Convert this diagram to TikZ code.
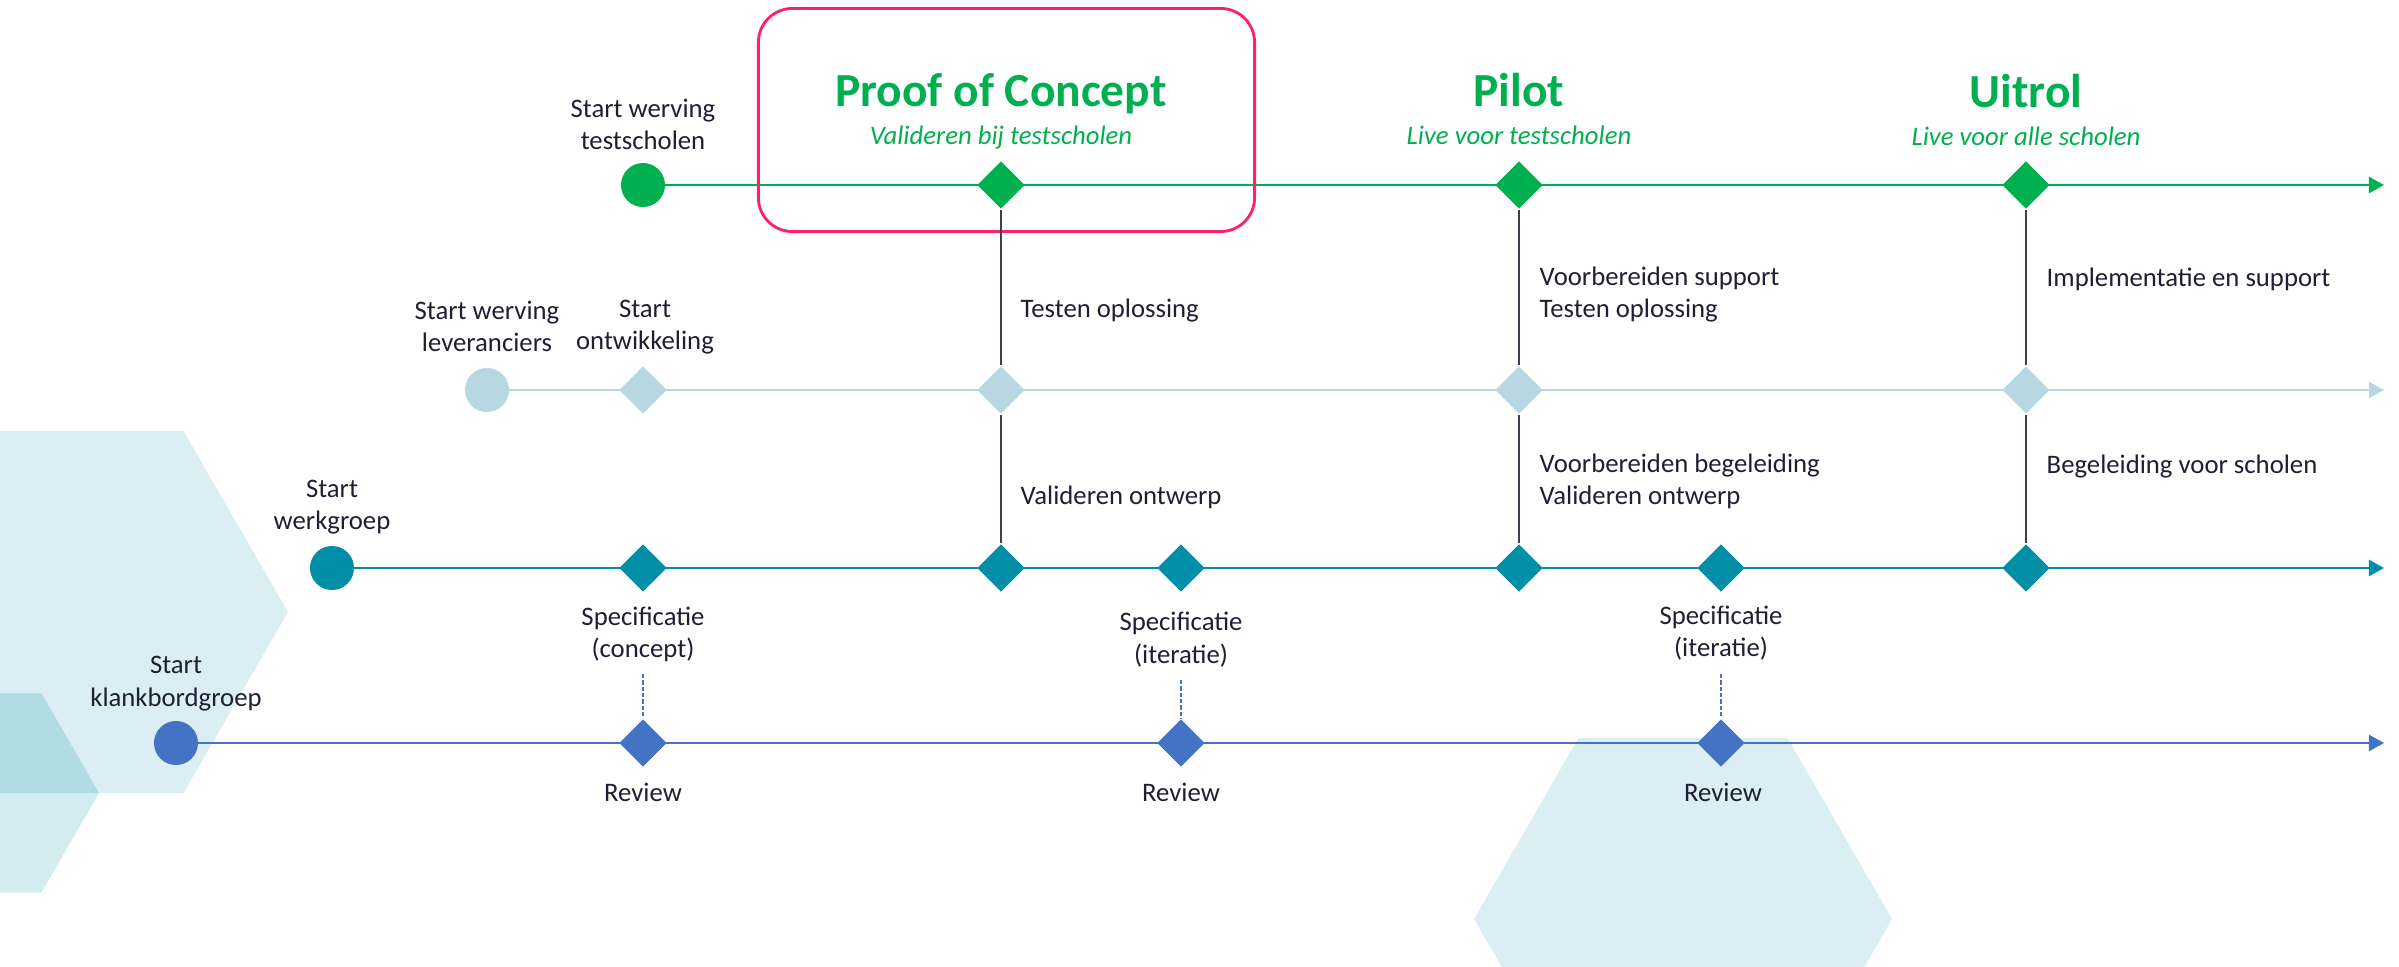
\documentclass[tikz,border=0pt]{standalone}
\usepackage{fontspec}
\setmainfont{Carlito}
\usetikzlibrary{shapes.geometric,arrows.meta}
\definecolor{cgreen}{HTML}{00B050}
\definecolor{clblue}{HTML}{B7D8E0}
\definecolor{cteal}{HTML}{008FA7}
\definecolor{cblue}{HTML}{4472C4}
\definecolor{cpink}{HTML}{FF1F6E}
\definecolor{ctext}{HTML}{1F1F33}
\definecolor{cconn}{HTML}{3F3F4F}
\definecolor{hexA}{HTML}{DBEEF3}
\definecolor{hexB}{HTML}{D3ECF0}
\definecolor{hexC}{HTML}{B1DCE3}
\pgfdeclarelayer{hexlayer}
\pgfdeclarelayer{linelayer}
\pgfsetlayers{hexlayer,linelayer,main}
\begin{document}
\begin{tikzpicture}[x=0.01cm,y=-0.01cm,
  lbl/.style={inner sep=0pt, text=ctext, font=\fontsize{7.6pt}{9.2pt}\selectfont, align=center, anchor=base},
  side/.style={lbl, align=left, anchor=base west},
  ttl/.style={inner sep=0pt, text=cgreen, font=\fontsize{13.5pt}{15pt}\selectfont\bfseries, anchor=base},
  sub/.style={inner sep=0pt, text=cgreen, font=\fontsize{7.6pt}{9.2pt}\selectfont\itshape, anchor=base},
  circ/.style={circle, inner sep=0pt, minimum size=0.44cm},
  dia/.style={diamond, inner sep=0pt, minimum width=0.48cm, minimum height=0.48cm},
  tline/.style={line width=0.6pt, -{Triangle[length=4.3pt,width=4.6pt]}},
  conn/.style={draw=cconn, line width=0.45pt},
  dashconn/.style={draw=cblue, line width=0.45pt, dash pattern=on 1.2pt off 0.6pt},
]
\useasboundingbox (0,0) rectangle (2399,967);

% background hexagons
\begin{pgfonlayer}{hexlayer}
\begin{scope}
\clip (0,0) rectangle (2399,967);
\fill[hexA] (288,612) -- (183.5,431) -- (-25.5,431) -- (-130,612) -- (-25.5,793) -- (183.5,793) -- cycle;
\fill[hexB] (99,793) -- (41.5,693.4) -- (-73.5,693.4) -- (-131,793) -- (-73.5,892.6) -- (41.5,892.6) -- cycle;
\begin{scope}
\clip (288,612) -- (183.5,431) -- (-25.5,431) -- (-130,612) -- (-25.5,793) -- (183.5,793) -- cycle;
\fill[hexC] (99,793) -- (41.5,693.4) -- (-73.5,693.4) -- (-131,793) -- (-73.5,892.6) -- (41.5,892.6) -- cycle;
\end{scope}
\fill[hexA] (1892,919) -- (1787.5,738) -- (1578.5,738) -- (1474,919) -- (1578.5,1100) -- (1787.5,1100) -- cycle;
\end{scope}
\end{pgfonlayer}

% highlight box
\node[draw=cpink, line width=0.8pt, rounded corners=0.34cm, minimum width=4.96cm, minimum height=2.23cm, inner sep=0pt] (pocbox) at (1006.5,120) {};

% row 1 (green)
\node[circ, fill=cgreen] (gC) at (643,185) {};
\node[dia, fill=cgreen] (g1) at (1001,185) {};
\node[dia, fill=cgreen] (g2) at (1519,185) {};
\node[dia, fill=cgreen] (g3) at (2026,185) {};
\coordinate (gE) at (2384,185);

% row 2 (light blue)
\node[circ, fill=clblue] (lC) at (487,390) {};
\node[dia, fill=clblue] (l0) at (643,390) {};
\node[dia, fill=clblue] (l1) at (1001,390) {};
\node[dia, fill=clblue] (l2) at (1519,390) {};
\node[dia, fill=clblue] (l3) at (2026,390) {};
\coordinate (lE) at (2384,390);

% row 3 (teal)
\node[circ, fill=cteal] (tC) at (332,568) {};
\node[dia, fill=cteal] (t0) at (643,568) {};
\node[dia, fill=cteal] (t1) at (1001,568) {};
\node[dia, fill=cteal] (tA) at (1181,568) {};
\node[dia, fill=cteal] (t2) at (1519,568) {};
\node[dia, fill=cteal] (tB) at (1721,568) {};
\node[dia, fill=cteal] (t3) at (2026,568) {};
\coordinate (tE) at (2384,568);

% row 4 (blue)
\node[circ, fill=cblue] (bC) at (176,743) {};
\node[dia, fill=cblue] (b0) at (643,743) {};
\node[dia, fill=cblue] (bA) at (1181,743) {};
\node[dia, fill=cblue] (bB) at (1721,743) {};
\coordinate (bE) at (2384,743);

\coordinate (d0) at (643,674);
\coordinate (dA) at (1181,680);
\coordinate (dB) at (1721,674);

\begin{pgfonlayer}{linelayer}
\draw[tline, draw=cgreen, fill=cgreen] (gC.center) -- (gE);
\draw[tline, draw=clblue, fill=clblue] (lC.center) -- (lE);
\draw[tline, draw=cteal, fill=cteal] (tC.center) -- (tE);
\draw[tline, draw=cblue, fill=cblue] (bC.center) -- (bE);
\end{pgfonlayer}

% vertical connectors
\draw[conn] (g1.south) -- (l1.north);
\draw[conn] (l1.south) -- (t1.north);
\draw[conn] (g2.south) -- (l2.north);
\draw[conn] (l2.south) -- (t2.north);
\draw[conn] (g3.south) -- (l3.north);
\draw[conn] (l3.south) -- (t3.north);
\draw[dashconn] (d0) -- (b0.north);
\draw[dashconn] (dA) -- (bA.north);
\draw[dashconn] (dB) -- (bB.north);

% titles
\node[ttl] (tPoc) at (1001,107) {Proof of Concept};
\node[sub] (sPoc) at (1001,145) {Valideren bij testscholen};
\node[ttl] (tPil) at (1519,107) {Pilot};
\node[sub] (sPil) at (1519,145) {Live voor testscholen};
\node[ttl] (tUit) at (2026,108) {Uitrol};
\node[sub] (sUit) at (2026,146) {Live voor alle scholen};

% start labels (anchor = baseline of last line)
\node[lbl] (lbWT) at (643,150) {Start werving\\testscholen};
\node[lbl] (lbWL) at (487,352) {Start werving\\leveranciers};
\node[lbl] (lbSO) at (645,350) {Start\\ontwikkeling};
\node[lbl] (lbSW) at (332,530) {Start\\werkgroep};
\node[lbl] (lbSK) at (176,706) {Start\\klankbordgroep};

% side labels
\node[side] (s1) at (1020,318) {Testen oplossing};
\node[side] (s2) at (1539,318) {Voorbereiden support\\Testen oplossing};
\node[side] (s3) at (2046,287) {Implementatie en support};
\node[side] (s4) at (1020,505) {Valideren ontwerp};
\node[side] (s5) at (1539,505) {Voorbereiden begeleiding\\Valideren ontwerp};
\node[side] (s6) at (2046,474) {Begeleiding voor scholen};

% specification / review labels
\node[lbl] (sp0) at (643,658) {Specificatie\\(concept)};
\node[lbl] (spA) at (1181,663) {Specificatie\\(iteratie)};
\node[lbl] (spB) at (1721,657) {Specificatie\\(iteratie)};
\node[lbl] (rv0) at (643,801) {Review};
\node[lbl] (rvA) at (1181,801) {Review};
\node[lbl] (rvB) at (1723,801) {Review};
\end{tikzpicture}
\end{document}
